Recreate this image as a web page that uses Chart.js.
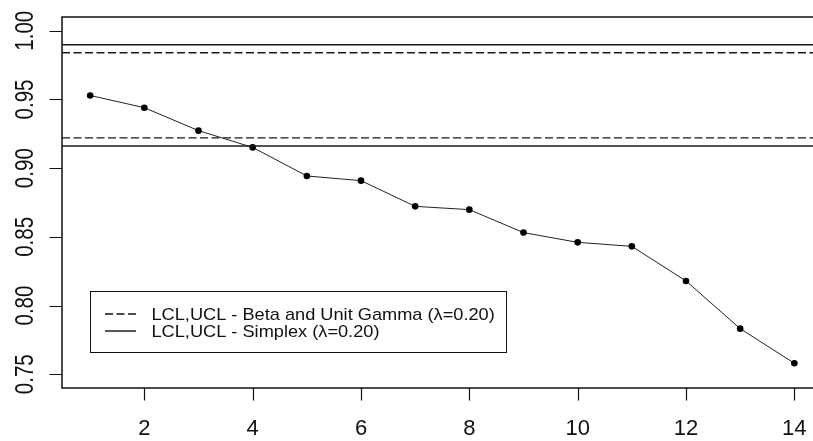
<!DOCTYPE html>
<html>
<head>
<meta charset="utf-8">
<script src="https://cdn.jsdelivr.net/npm/chart.js"></script>
<style>
    html, body { margin: 0; padding: 0; background: #fff; overflow: hidden; }
    #wrap { width: 830px; height: 441px; }
</style>
</head>
<body>
<div id="wrap"><canvas id="myChart" width="830" height="441"></canvas></div>
<script>
// EWMA statistic per sample and the control limits
var muestras = [1, 2, 3, 4, 5, 6, 7, 8, 9, 10, 11, 12, 13, 14];
var ewma = [0.9529, 0.9440, 0.9273, 0.9151, 0.8943, 0.8909, 0.8722,
            0.8698, 0.8531, 0.8460, 0.8431, 0.8179, 0.7832, 0.7580];
var limitesBeta = [0.9220, 0.9840];     // LCL, UCL
var limitesSimplex = [0.9161, 0.9898];  // LCL, UCL

var xTicks = [2, 4, 6, 8, 10, 12, 14];
var yTicks = [0.75, 0.80, 0.85, 0.90, 0.95, 1.00];
var yTickLabels = ['0.75', '0.80', '0.85', '0.90', '0.95', '1.00'];
var xLimits = [0.48, 14.52];
var yLimits = [0.74, 1.01];
var etiquetas = ['LCL,UCL - Beta and Unit Gamma (\u03BB=0.20)', 'LCL,UCL - Simplex (\u03BB=0.20)'];

var FONT = '"Liberation Sans", Arial, sans-serif';

function limitLine(valor, dash, label) {
    return {
        label: label,
        data: [{ x: xLimits[0], y: valor }, { x: xLimits[1], y: valor }],
        borderColor: '#1a1a1a',
        borderWidth: 1.4,
        borderDash: dash,
        pointRadius: 0,
        fill: false
    };
}

function texto(ctx, str, x, y, size, sx, rot, align, base) {
    ctx.save();
    ctx.translate(x, y);
    ctx.rotate(rot);
    ctx.scale(sx, 1);
    ctx.font = size + 'px ' + FONT;
    ctx.fillStyle = '#111';
    ctx.textAlign = align;
    ctx.textBaseline = base;
    ctx.fillText(str, 0, 0);
    ctx.restore();
}

// box, axes and legend drawn in base-graphics style
var ejesR = {
    id: 'ejesR',
    afterDraw: function (chart) {
        var ctx = chart.ctx;
        var a = chart.chartArea;
        var sx = chart.scales.x, sy = chart.scales.y;

        ctx.save();
        ctx.strokeStyle = '#111';
        ctx.lineWidth = 1.5;
        ctx.strokeRect(a.left, a.top, a.right - a.left, a.bottom - a.top);

        ctx.lineWidth = 1.2;
        ctx.beginPath();
        for (var i = 0; i < xTicks.length; i++) {
            var px = Math.round(sx.getPixelForValue(xTicks[i])) + 0.5;
            ctx.moveTo(px, a.bottom);
            ctx.lineTo(px, a.bottom + 12.5);
        }
        for (var k = 0; k < yTicks.length; k++) {
            var py = Math.round(sy.getPixelForValue(yTicks[k])) + 0.5;
            ctx.moveTo(a.left, py);
            ctx.lineTo(a.left - 12.5, py);
        }
        ctx.stroke();
        ctx.restore();

        for (var i = 0; i < xTicks.length; i++) {
            texto(ctx, String(xTicks[i]), sx.getPixelForValue(xTicks[i]), 435, 22, 1, 0, 'center', 'alphabetic');
        }
        for (var k = 0; k < yTicks.length; k++) {
            texto(ctx, yTickLabels[k], 32.5, sy.getPixelForValue(yTicks[k]), 26, 0.79, -Math.PI / 2, 'center', 'alphabetic');
        }

        // legend
        var filas = [314, 331];
        ctx.save();
        ctx.strokeStyle = '#111';
        ctx.lineWidth = 1;
        ctx.strokeRect(90.5, 291.5, 416, 61);
        ctx.lineWidth = 1.4;
        ctx.setLineDash([8, 3.5]);
        ctx.beginPath();
        ctx.moveTo(105, filas[0]);
        ctx.lineTo(136, filas[0]);
        ctx.stroke();
        ctx.setLineDash([]);
        ctx.beginPath();
        ctx.moveTo(105, filas[1]);
        ctx.lineTo(136, filas[1]);
        ctx.stroke();
        ctx.restore();
        texto(ctx, etiquetas[0], 151.5, filas[0] + 1, 17, 1.07, 0, 'left', 'middle');
        texto(ctx, etiquetas[1], 151.5, filas[1] + 1, 17, 1.07, 0, 'left', 'middle');
    }
};

var ctx = document.getElementById('myChart').getContext('2d');
var myChart = new Chart(ctx, {
    type: 'line',
    data: {
        datasets: [
            limitLine(limitesSimplex[1], [], etiquetas[1]),
            limitLine(limitesSimplex[0], [], etiquetas[1]),
            limitLine(limitesBeta[1], [8, 3.5], etiquetas[0]),
            limitLine(limitesBeta[0], [8, 3.5], etiquetas[0]),
            {
                label: 'EWMA',
                data: muestras.map(function (m, i) { return { x: m, y: ewma[i] }; }),
                borderColor: '#222',
                borderWidth: 1,
                pointRadius: 3.3,
                pointBackgroundColor: '#000',
                pointBorderColor: '#000',
                pointBorderWidth: 0,
                tension: 0,
                fill: false
            }
        ]
    },
    options: {
        responsive: false,
        animation: false,
        layout: { padding: { left: 62, top: 17, right: 7.5, bottom: 53 } },
        plugins: {
            legend: { display: false },
            tooltip: { enabled: false }
        },
        scales: {
            x: { type: 'linear', min: xLimits[0], max: xLimits[1], display: false },
            y: { type: 'linear', min: yLimits[0], max: yLimits[1], display: false }
        }
    },
    plugins: [ejesR]
});
</script>
</body>
</html>
